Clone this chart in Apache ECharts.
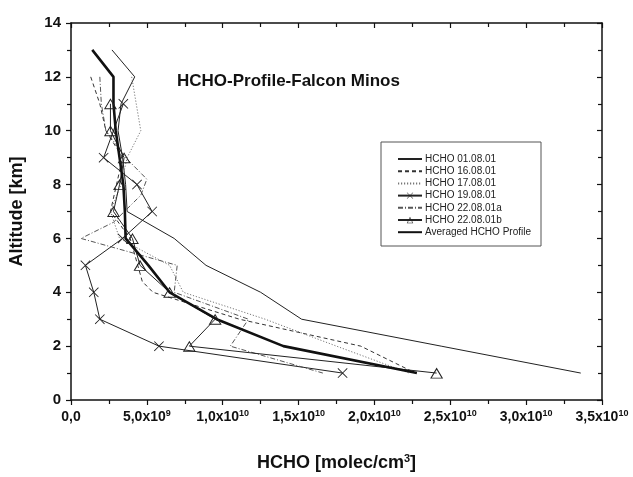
<!DOCTYPE html>
<html lang="en">
<head>
    <meta charset="UTF-8">
    <title>HCHO-Profile-Falcon Minos</title>
    <script src="https://cdn.jsdelivr.net/npm/echarts@6/dist/echarts.min.js"></script>
    <style>
        html, body { margin: 0; padding: 0; width: 100%; height: 100%; background: #fff; }
        #chart { width: 633px; height: 477px; }
    </style>
</head>
<body>
<div id="chart"></div>
<script>
    // altitude [km] and HCHO [molec/cm3]
    var alt0108 = [13, 12, 11, 10, 9, 8, 7, 6, 5, 4, 3, 2, 1];
    var hcho0108 = [2.7e9, 4.2e9, 3.3e9, 3.1e9, 3.4e9, 3.6e9, 3.7e9, 6.8e9, 8.9e9, 1.25e10, 1.52e10, 2.44e10, 3.36e10];

    var alt1608 = [12, 11, 10, 9, 8, 7, 6, 5, 4.4, 4, 3, 2, 1];
    var hcho1608 = [1.3e9, 1.9e9, 2.3e9, 3.4e9, 3.0e9, 2.6e9, 3.9e9, 4.4e9, 4.7e9, 5.4e9, 1.11e10, 1.91e10, 2.27e10];

    var alt1708 = [12, 11, 10, 9, 8, 7, 6, 5, 4, 3, 2, 1];
    var hcho1708 = [4.0e9, 4.3e9, 4.6e9, 3.7e9, 3.3e9, 2.6e9, 3.2e9, 6.5e9, 7.4e9, 1.28e10, 1.75e10, 2.23e10];

    var alt1908 = [11, 9, 8, 7, 6, 5, 4, 3, 2, 1];
    var hcho1908 = [3.45e9, 2.15e9, 4.35e9, 5.35e9, 3.4e9, 0.95e9, 1.5e9, 1.9e9, 5.8e9, 1.79e10];

    var alt2208a = [12, 11, 10, 9, 8.2, 7.6, 6.6, 6, 5, 4, 3, 2, 1];
    var hcho2208a = [1.9e9, 2.0e9, 2.3e9, 3.6e9, 5.0e9, 4.6e9, 2.8e9, 0.66e9, 7.0e9, 6.8e9, 1.17e10, 1.05e10, 1.66e10];

    var alt2208b = [11, 10, 9, 8, 7, 6, 5, 4, 3, 2, 1];
    var hcho2208b = [2.6e9, 2.6e9, 3.5e9, 3.2e9, 2.8e9, 4.05e9, 4.55e9, 6.5e9, 9.5e9, 7.8e9, 2.41e10];

    var altMean = [13, 12, 11, 10, 9, 8, 7, 6, 5, 4, 3, 2, 1];
    var hchoMean = [1.4e9, 2.8e9, 2.8e9, 2.95e9, 3.2e9, 3.45e9, 3.55e9, 3.6e9, 5.1e9, 6.5e9, 9.6e9, 1.40e10, 2.28e10];

    var names = ['HCHO 01.08.01', 'HCHO 16.08.01', 'HCHO 17.08.01', 'HCHO 19.08.01',
        'HCHO 22.08.01a', 'HCHO 22.08.01b', 'Averaged HCHO Profile'];
    var hasMarker = [false, false, false, true, false, true, false];

    var FONT = '"Liberation Sans", Arial, sans-serif';
    var CROSS = 'path://M0,0.6L0.6,0L5,4.4L9.4,0L10,0.6L5.6,5L10,9.4L9.4,10L5,5.6L0.6,10L0,9.4L4.4,5Z';
    // hollow triangle outline: outer clockwise, inner counter-clockwise
    var TRI = 'path://M5,0L10,9L0,9ZM5,1.7L1.3,8.25L8.7,8.25Z';

    function pairs(xs, ys) {
        return xs.map(function (x, i) { return [x, ys[i]]; });
    }

    function tickLabel(v) {
        if (v === 0) return '{a|0,0}';
        var e = Math.floor(Math.log10(v) + 1e-9);
        var m = (v / Math.pow(10, e)).toFixed(1).replace('.', ',');
        return '{a|' + m + 'x10}{s|' + e + '}';
    }

    function line(name, data, style, extra) {
        var s = {
            name: name,
            type: 'line',
            data: data,
            symbol: 'none',
            animation: false,
            lineStyle: style,
            itemStyle: { color: style.color }
        };
        for (var k in extra) s[k] = extra[k];
        return s;
    }

    var chart = echarts.init(document.getElementById('chart'));

    var axisLine = { show: true, onZero: false, lineStyle: { color: '#111', width: 1.5 } };

    chart.setOption({
        backgroundColor: '#fff',
        title: {
            text: 'HCHO-Profile-Falcon Minos',
            left: 177, top: 73, padding: 0,
            textStyle: { fontFamily: FONT, fontSize: 17, fontWeight: 'bold', color: '#111' }
        },
        grid: { left: 70, right: 31, top: 23, bottom: 64.5 },
        graphic: [{
            type: 'rect', z: 0,
            shape: { x: 381, y: 142, width: 160, height: 104 },
            style: { fill: '#fff', stroke: '#555', lineWidth: 1 }
        }],
        legend: {
            data: names.map(function (n, i) {
                return hasMarker[i] ? { name: n } : { name: n, itemStyle: { opacity: 0 } };
            }),
            orient: 'vertical',
            left: 397, top: 154, padding: 0,
            itemWidth: 24, itemHeight: 8, itemGap: 2.2,
            textStyle: { fontFamily: FONT, fontSize: 10, color: '#222', lineHeight: 8, padding: [0, 0, 0, -2] }
        },
        xAxis: [{
            type: 'value', position: 'bottom',
            min: 0, max: 3.5e10, interval: 5e9,
            axisLine: axisLine,
            axisTick: { show: true, inside: false, length: 5, lineStyle: { color: '#111', width: 1.2 } },
            minorTick: { show: true, splitNumber: 2, length: 4, lineStyle: { color: '#111', width: 1.2 } },
            splitLine: { show: false },
            axisLabel: {
                margin: 9, formatter: tickLabel,
                rich: {
                    a: { fontFamily: FONT, fontSize: 14, fontWeight: 'bold', color: '#111', lineHeight: 16 },
                    s: { fontFamily: FONT, fontSize: 9, fontWeight: 'bold', color: '#111', lineHeight: 9, verticalAlign: 'top' }
                }
            },
            name: '{n|HCHO [molec/cm}{s|3}{n|]}',
            nameLocation: 'middle', nameGap: 53,
            nameTextStyle: {
                rich: {
                    n: { fontFamily: FONT, fontSize: 18, fontWeight: 'bold', color: '#111', lineHeight: 20 },
                    s: { fontFamily: FONT, fontSize: 11, fontWeight: 'bold', color: '#111', lineHeight: 11, verticalAlign: 'top' }
                }
            }
        }, {
            type: 'value', position: 'top',
            min: 0, max: 3.5e10, interval: 5e9,
            axisLine: axisLine,
            axisTick: { show: true, inside: true, length: 5, lineStyle: { color: '#111', width: 1.2 } },
            minorTick: { show: true, splitNumber: 2, length: 4, lineStyle: { color: '#111', width: 1.2 } },
            splitLine: { show: false },
            axisLabel: { show: false }
        }],
        yAxis: [{
            type: 'value', position: 'left',
            min: 0, max: 14, interval: 2,
            axisLine: axisLine,
            axisTick: { show: true, inside: false, length: 5, lineStyle: { color: '#111', width: 1.2 } },
            minorTick: { show: true, splitNumber: 2, length: 4, lineStyle: { color: '#111', width: 1.2 } },
            splitLine: { show: false },
            axisLabel: { margin: 10, fontFamily: FONT, fontSize: 15, fontWeight: 'bold', color: '#111' },
            name: 'Altitude [km]',
            nameLocation: 'middle', nameGap: 45,
            nameTextStyle: { fontFamily: FONT, fontSize: 18, fontWeight: 'bold', color: '#111' }
        }, {
            type: 'value', position: 'right',
            min: 0, max: 14, interval: 2,
            axisLine: axisLine,
            axisTick: { show: true, inside: true, length: 5, lineStyle: { color: '#111', width: 1.2 } },
            minorTick: { show: true, splitNumber: 2, length: 4, lineStyle: { color: '#111', width: 1.2 } },
            splitLine: { show: false },
            axisLabel: { show: false }
        }],
        series: [
            line(names[0], pairs(hcho0108, alt0108), { color: '#222', width: 1, type: 'solid' }),
            line(names[1], pairs(hcho1608, alt1608), { color: '#333', width: 1, type: [4, 3] }),
            line(names[2], pairs(hcho1708, alt1708), { color: '#777', width: 1, type: [1.2, 1.8] }),
            line(names[3], pairs(hcho1908, alt1908), { color: '#222', width: 1, type: 'solid' },
                { symbol: CROSS, symbolSize: 10, itemStyle: { color: '#222', borderWidth: 0 } }),
            line(names[4], pairs(hcho2208a, alt2208a), { color: '#555', width: 1, type: [5, 2, 1, 2] }),
            line(names[5], pairs(hcho2208b, alt2208b), { color: '#222', width: 1, type: 'solid' },
                { symbol: TRI, symbolSize: [13, 11], itemStyle: { color: '#222', borderWidth: 0 } }),
            line(names[6], pairs(hchoMean, altMean), { color: '#111', width: 2.6, type: 'solid' })
        ]
    });
</script>
</body>
</html>
